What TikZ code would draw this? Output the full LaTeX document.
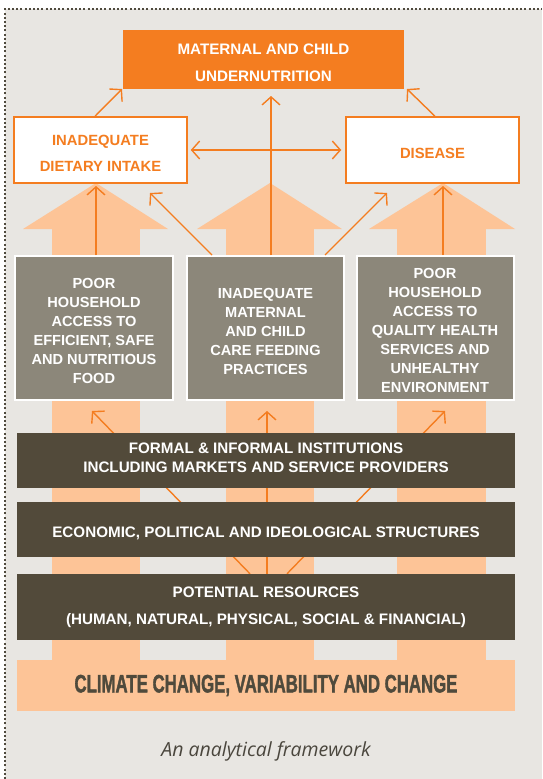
\documentclass[tikz,border=0pt]{standalone}
\usepackage{fontspec}
\setmainfont{Liberation Sans}
\newfontfamily\capfont{Open Sans}
\newfontface\climfont{Liberation Sans Bold}[FakeBold=2]
\usetikzlibrary{arrows.meta}
\definecolor{bgc}{HTML}{E8E6E2}
\definecolor{orng}{HTML}{F47D20}
\definecolor{lorng}{HTML}{FDC497}
\definecolor{dbox}{HTML}{524A3A}
\definecolor{gbox}{HTML}{8C877A}
\definecolor{dotc}{HTML}{4F4A3E}
\definecolor{ctext}{HTML}{4F4A3C}
\definecolor{captc}{HTML}{4A463D}
\pgfdeclarelayer{back}
\pgfdeclarelayer{mid}
\pgfsetlayers{back,mid,main}
\newcommand{\stk}[2]{\raisebox{#1}[\height][\depth]{\begin{tabular}{@{}c@{}}#2\end{tabular}}}
\newcommand{\lowr}[2]{\raisebox{#1}[\height][\depth]{#2}}
\begin{document}
\begin{tikzpicture}[x=1pt,y=-1pt,
  arr/.style={draw=orng, line width=1.4pt, -{Straight Barb[length=8pt,width=18pt,line width=1.4pt]}},
  darr/.style={draw=orng, line width=1.4pt, {Straight Barb[length=8pt,width=18pt,line width=1.4pt]}-{Straight Barb[length=8pt,width=18pt,line width=1.4pt]}},
  topbox/.style={fill=orng, text=white, inner sep=0pt, minimum width=281pt, minimum height=59pt, align=center, font=\bfseries\fontsize{15.2}{27}\selectfont},
  wbox/.style={fill=white, draw=orng, line width=1.5pt, text=orng, inner sep=0pt, minimum width=173pt, minimum height=66pt, align=center, font=\bfseries\fontsize{14.8}{26}\selectfont},
  gboxs/.style={fill=gbox, draw=white, line width=2pt, text=white, inner sep=0pt, minimum width=157pt, minimum height=144pt, align=center, font=\bfseries\fontsize{14.6}{19}\selectfont},
  dboxs/.style={fill=dbox, text=white, inner sep=0pt, minimum width=498pt, align=center, font=\bfseries\fontsize{15.2}{19}\selectfont},
  shaft/.style={fill=lorng},
]
\useasboundingbox (0,0) rectangle (542,779);
\begin{pgfonlayer}{back}
\fill[white] (0,0) rectangle (542,779);
\fill[bgc] (5,9) rectangle (542,779);
\draw[dotc, line width=2pt, dash pattern=on 2pt off 2.2pt] (5,779) -- (5,9) -- (542,9);
% big light arrows
\fill[shaft] (52,229) rectangle (140,660);
\fill[shaft] (23,229) -- (96,183) -- (168,229) -- cycle;
\fill[shaft] (226,229) rectangle (314,660);
\fill[shaft] (197,229) -- (270,183) -- (342,229) -- cycle;
\fill[shaft] (397,229) rectangle (486,660);
\fill[shaft] (369,229) -- (443,183) -- (515,229) -- cycle;
\end{pgfonlayer}

% nodes
\node[topbox] (mcu) at (263.5,59.5) {\stk{-3.5pt}{MATERNAL AND CHILD\\UNDERNUTRITION}};
\node[wbox] (dit) at (100.5,150) {\stk{-3pt}{INADEQUATE\\DIETARY INTAKE}};
\node[wbox] (dis) at (432.5,150) {\lowr{-3pt}{DISEASE}};
\node[gboxs, minimum width=158pt] (pfood) at (94,328) {\stk{-4pt}{POOR\\HOUSEHOLD\\ACCESS TO\\EFFICIENT, SAFE\\AND NUTRITIOUS\\FOOD}};
\node[gboxs] (care) at (265.5,328) {\stk{-5pt}{INADEQUATE\\MATERNAL\\AND CHILD\\CARE FEEDING\\PRACTICES}};
\node[gboxs] (pheal) at (435,328) {\stk{-4pt}{POOR\\HOUSEHOLD\\ACCESS TO\\QUALITY HEALTH\\SERVICES AND\\UNHEALTHY\\ENVIRONMENT}};
\node[dboxs, minimum height=55pt] (inst) at (266,460.5) {\stk{1.5pt}{FORMAL \& INFORMAL INSTITUTIONS\\INCLUDING MARKETS AND SERVICE PROVIDERS}};
\node[dboxs, minimum height=55pt] (econ) at (266,529.5) {\lowr{-3.5pt}{ECONOMIC, POLITICAL AND IDEOLOGICAL STRUCTURES}};
\node[dboxs, minimum height=66pt, font=\bfseries\fontsize{15.2}{27}\selectfont] (res) at (266,607) {\stk{1.5pt}{POTENTIAL RESOURCES\\(HUMAN, NATURAL, PHYSICAL, SOCIAL \& FINANCIAL)}};
\node[fill=lorng, inner sep=0pt, minimum width=498pt, minimum height=51pt, text=ctext] (clim) at (266,685.5) {\resizebox{383pt}{17.5pt}{\climfont CLIMATE CHANGE, VARIABILITY AND CHANGE}};
\node[text=captc, font=\capfont\itshape\fontsize{19.5}{22}\selectfont] (cap) at (266,751) {An analytical framework};

% tips
\coordinate (tipDL) at (92,411);
\coordinate (tipDC) at (267,411);
\coordinate (tipDR) at (445,411);
\coordinate (tipL) at (96,186);
\coordinate (tipR) at (443,186);
\coordinate (tipC) at (271,96);
\coordinate (tipUL) at (150,193);
\coordinate (tipUR) at (387,193);
\coordinate (tipM1) at (122,89);
\coordinate (tipM2) at (407,89);

\begin{pgfonlayer}{mid}
\draw[arr] ([xshift=-16pt]res.north) -- (tipDL);
\draw[arr] ([xshift=1pt]res.north) -- (tipDC);
\draw[arr] ([xshift=21pt]res.north) -- (tipDR);
\end{pgfonlayer}

\draw[arr] ([xshift=2pt]pfood.north) -- (tipL);
\draw[arr] ([xshift=8pt]pheal.north) -- (tipR);
\draw[arr] ([xshift=5.5pt]care.north) -- (tipC);
\draw[arr] ([xshift=26pt]care.north west) -- (tipUL);
\draw[arr] ([xshift=-20pt]care.north east) -- (tipUR);
\draw[arr] ([xshift=-5.5pt]dit.north) -- (tipM1);
\draw[arr] ([xshift=2.5pt]dis.north) -- (tipM2);
\draw[darr, shorten <=3pt, shorten >=4pt] (dit) -- (dis);
\end{tikzpicture}
\end{document}
